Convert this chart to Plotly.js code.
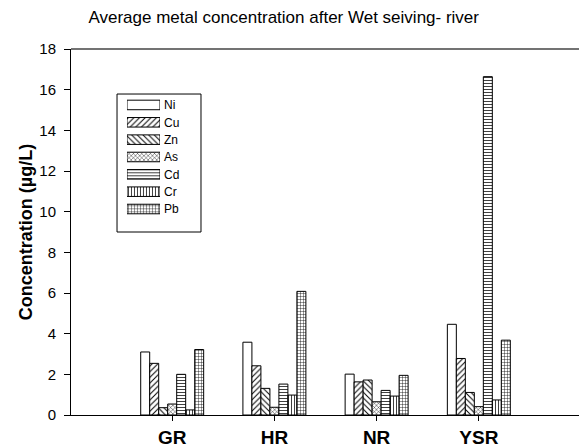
<!DOCTYPE html>
<html>
<head>
<meta charset="utf-8">
<script src="https://cdn.plot.ly/plotly-3.0.1.min.js"></script>
<style>html,body{margin:0;padding:0;background:#fff;}#chart{width:579px;height:447px;}</style>
</head>
<body>
<div id="chart"></div>
<script>
const categories = ["GR", "HR", "NR", "YSR"];
const metals = ["Ni", "Cu", "Zn", "As", "Cd", "Cr", "Pb"];
const Ni = [3.10, 3.58, 2.01, 4.46];
const Cu = [2.54, 2.42, 1.63, 2.78];
const Zn = [0.36, 1.31, 1.72, 1.11];
const As = [0.54, 0.38, 0.65, 0.41];
const Cd = [2.00, 1.52, 1.21, 16.64];
const Cr = [0.25, 0.98, 0.93, 0.74];
const Pb = [3.22, 6.08, 1.95, 3.68];
const yTicks = [0, 2, 4, 6, 8, 10, 12, 14, 16, 18];

const seriesValues = [Ni, Cu, Zn, As, Cd, Cr, Pb];
const shapes = ["", "/", "\\", "x", "-", "|", "+"];
const sizes = [4, 4, 4, 3, 3, 3, 3];

const traces = metals.map((m, i) => ({
  type: "bar",
  name: m,
  x: categories,
  y: seriesValues[i],
  showlegend: false,
  marker: {
    color: "white",
    line: {color: "black", width: 1},
    pattern: {shape: shapes[i], fgcolor: "black", bgcolor: "white", size: sizes[i], solidity: 0.25}
  }
}));

// custom legend: one horizontal bar per metal in an inset axis (wide swatches like the original)
traces.push({
  type: "bar",
  orientation: "h",
  xaxis: "x2", yaxis: "y2",
  y: metals,
  x: metals.map(() => 1),
  width: 0.55,
  showlegend: false,
  hoverinfo: "skip",
  marker: {
    color: "white",
    line: {color: "black", width: 1},
    pattern: {shape: shapes, fgcolor: "black", bgcolor: "white", size: sizes, solidity: 0.25}
  }
});

const layout = {
  width: 579, height: 447,
  margin: {l: 71, r: 0, t: 49, b: 32},
  paper_bgcolor: "white", plot_bgcolor: "white",
  font: {family: "Arial, Liberation Sans, sans-serif", color: "black"},
  title: {text: "Average metal concentration after Wet seiving- river", font: {size: 17, color: "black"}, x: 0.49, xanchor: "center", y: 0.962, yanchor: "middle"},
  barmode: "group",
  bargap: 0.384,
  bargroupgap: 0,
  showlegend: false,
  xaxis: {
    type: "category",
    range: [-0.99, 3.98],
    showline: true, linecolor: "black", linewidth: 1,
    mirror: false,
    ticks: "outside", ticklen: 5, tickcolor: "black",
    tickfont: {size: 19, color: "black", weight: "bold"},
    showgrid: false, zeroline: false, fixedrange: true
  },
  yaxis: {
    range: [0, 18],
    tickvals: yTicks,
    ticktext: yTicks.map(String),
    showline: true, linecolor: "black", linewidth: 1,
    ticks: "outside", ticklen: 6, tickcolor: "black",
    ticklabelstandoff: 5,
    tickfont: {size: 15, color: "black"},
    showgrid: false, zeroline: false,
    title: {text: "Concentration (µg/L)", font: {size: 18, color: "black", weight: "bold"}, standoff: 2}
  },
  xaxis2: {
    domain: [0.1102, 0.1752],
    range: [0, 1],
    anchor: "y2",
    visible: false,
    fixedrange: true
  },
  yaxis2: {
    domain: [0.5391, 0.8708],
    type: "category",
    categoryarray: metals,
    autorange: "reversed",
    anchor: "x2",
    side: "right",
    showline: false, showgrid: false, zeroline: false,
    ticks: "",
    ticklabelstandoff: 3,
    tickfont: {size: 12, color: "black"},
    fixedrange: true
  },
  shapes: [
    {type: "line", xref: "paper", yref: "paper", x0: 0, x1: 1, y0: 1, y1: 1, line: {color: "#444", width: 1.5}},
    {type: "rect", xref: "paper", yref: "paper", x0: 0.0906, x1: 0.2559, y0: 0.5, y1: 0.877, line: {color: "black", width: 1}, fillcolor: "white", layer: "below"}
  ]
};

Plotly.newPlot("chart", traces, layout, {displayModeBar: false, staticPlot: true});
</script>
</body>
</html>
